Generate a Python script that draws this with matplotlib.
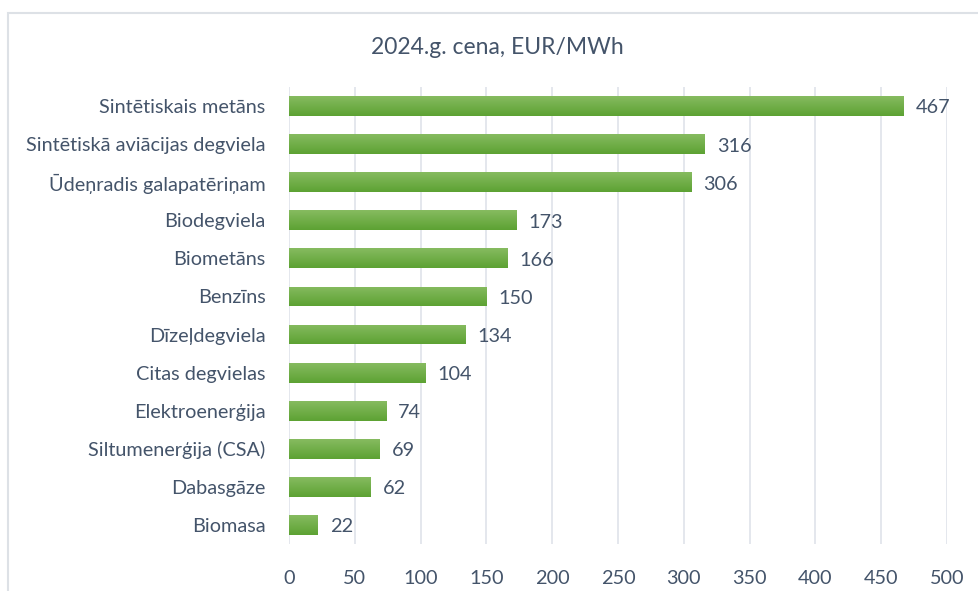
import matplotlib
matplotlib.use("Agg")
import matplotlib.pyplot as plt
import numpy as np
from matplotlib.colors import LinearSegmentedColormap
from matplotlib.patches import Rectangle

categories = ["Sintētiskais metāns", "Sintētiskā aviācijas degviela", "Ūdeņradis galapatēriņam",
              "Biodegviela", "Biometāns", "Benzīns", "Dīzeļdegviela", "Citas degvielas",
              "Elektroenerģija", "Siltumenerģija (CSA)", "Dabasgāze", "Biomasa"]
values = [467, 316, 306, 173, 166, 150, 134, 104, 74, 69, 62, 22]
xticks = [0, 50, 100, 150, 200, 250, 300, 350, 400, 450, 500]
title = "2024.g. cena, EUR/MWh"

plt.rcParams['font.family'] = ['Lato', 'DejaVu Sans']
text_color = "#44546a"
fs = 14.3

fig = plt.figure(figsize=(9.79, 5.91), dpi=100)
ax = fig.add_axes([0.2952, 0.0795, 0.9673 - 0.2952, 0.8528 - 0.0795])

# frame
fig.patches.append(Rectangle((8.5/979, -0.1), 1.2, 1 - 12.5/591 + 0.1, transform=fig.transFigure,
                             fill=False, edgecolor="#dde1e6", linewidth=1.5, zorder=0))

y = np.arange(len(categories))
bars = ax.barh(y, values, height=0.52, color="#6aab3e", zorder=2)
cmap = LinearSegmentedColormap.from_list("g", ["#86bb60", "#5da233"])
grad = np.linspace(0, 1, 64).reshape(-1, 1)
for b in bars:
    x0, y0, w, h = b.get_x(), b.get_y(), b.get_width(), b.get_height()
    im = ax.imshow(grad, cmap=cmap, aspect="auto", extent=(x0, x0 + w, y0 + h, y0),
                   zorder=3, interpolation="bilinear")
    im.set_clip_path(b)

for yi, v in zip(y, values):
    ax.text(v + 9, yi + 0.05, str(v), va="center", ha="left", fontsize=fs, color=text_color, zorder=4)

ax.set_ylim(len(categories) - 0.5, -0.5)
ax.set_xlim(0, 500)
ax.set_yticks(y)
ax.set_yticklabels(categories, fontsize=fs, color=text_color)
ax.set_xticks(xticks)
ax.set_xticklabels([str(t) for t in xticks], fontsize=fs, color=text_color)
ax.tick_params(axis="both", length=0)
ax.tick_params(axis="y", pad=17)
ax.tick_params(axis="x", pad=18.5)
ax.grid(axis="x", color="#dfe3ea", linewidth=1.2, zorder=0)
ax.set_axisbelow(True)
for s in ax.spines.values():
    s.set_visible(False)

fig.text(497/979, 1 - 47/591, title, ha="center", va="center", fontsize=16.5, color=text_color)

fig.savefig("out.png", dpi=100)
